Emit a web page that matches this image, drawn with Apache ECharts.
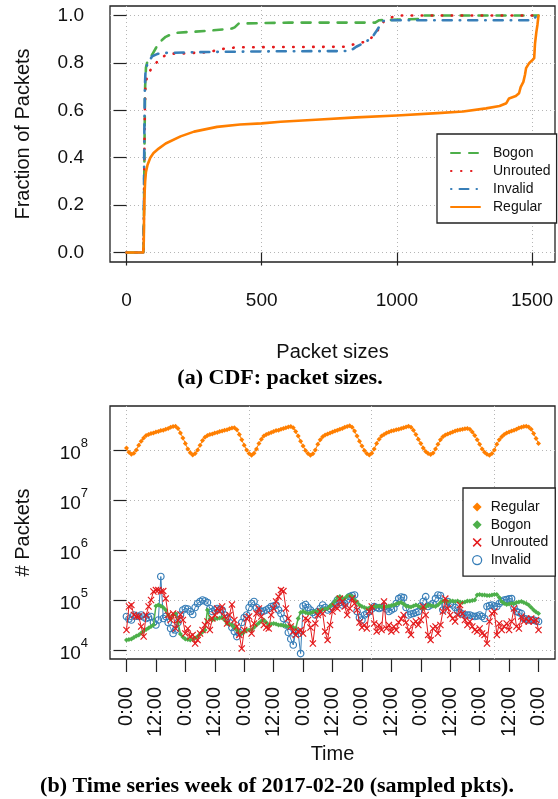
<!DOCTYPE html>
<html>
<head>
<meta charset="utf-8">
<script src="https://cdn.jsdelivr.net/npm/echarts@6/dist/echarts.min.js"></script>
<style>
  html, body { margin: 0; padding: 0; background: #fff; }
  #cdf { position: absolute; left: 0; top: 0; width: 558px; height: 399px; }
  #ts  { position: absolute; left: 0; top: 399px; width: 558px; height: 400px; }
</style>
</head>
<body>
<div id="cdf"></div>
<div id="ts"></div>
<script>
// ---- (a) CDF of packet sizes: [packet size (bytes), cumulative fraction] ----
const cdfBogon = [
  [0, 0], [63, 0], [65, 0.2], [67, 0.5], [69, 0.7], [72, 0.78], [78, 0.81], [95, 0.835],
  [110, 0.865], [125, 0.89], [145, 0.91], [175, 0.926], [225, 0.93], [300, 0.935],
  [390, 0.945], [400, 0.95], [415, 0.966], [600, 0.97], [920, 0.97], [935, 0.98],
  [1080, 0.985], [1085, 1.0], [1524, 1.0]
];
const cdfUnrouted = [
  [0, 0], [62, 0], [64, 0.1], [66, 0.4], [68, 0.6], [70, 0.7], [76, 0.743], [85, 0.765],
  [95, 0.778], [110, 0.8], [125, 0.82], [145, 0.832], [170, 0.839], [210, 0.84],
  [300, 0.845], [370, 0.862], [415, 0.866], [810, 0.868], [830, 0.875], [850, 0.881],
  [887, 0.89], [905, 0.905], [918, 0.92], [936, 0.948], [955, 0.98], [985, 0.994],
  [1020, 1.0], [1524, 1.0]
];
const cdfInvalid = [
  [0, 0], [62, 0], [64, 0.15], [66, 0.5], [68, 0.7], [71, 0.78], [76, 0.79], [85, 0.81],
  [95, 0.828], [115, 0.838], [137, 0.842], [300, 0.846], [568, 0.849], [825, 0.85],
  [840, 0.86], [850, 0.868], [870, 0.88], [887, 0.89], [910, 0.91], [924, 0.933],
  [936, 0.955], [949, 0.976], [960, 0.98], [1500, 0.98], [1510, 0.99], [1520, 1.0]
];
const cdfRegular = [
  [0, 0], [62, 0], [64, 0.05], [65, 0.15], [67, 0.25], [69, 0.3], [72, 0.34], [78, 0.37],
  [88, 0.4], [100, 0.42], [115, 0.435], [145, 0.46], [200, 0.49], [250, 0.51], [335, 0.53],
  [420, 0.54], [500, 0.545], [570, 0.552], [700, 0.56], [850, 0.57], [1000, 0.578],
  [1150, 0.588], [1245, 0.595], [1330, 0.608], [1380, 0.618], [1405, 0.63], [1415, 0.65],
  [1440, 0.66], [1452, 0.672], [1458, 0.698], [1468, 0.72], [1474, 0.75], [1478, 0.778],
  [1490, 0.8], [1500, 0.81], [1508, 0.82], [1511, 0.88], [1516, 0.93], [1520, 0.96], [1524, 1.0]
];
const sizeTicks = [0, 500, 1000, 1500];
const fractionTicks = [0, 0.2, 0.4, 0.6, 0.8, 1.0];

// ---- (b) hourly packet counts, week of 2017-02-20 (hour 0 .. 168) ----
const regular = [
  1.10e8, 9.0e7, 8.2e7, 8.6e7, 1.0e8, 1.25e8, 1.5e8, 1.75e8, 1.95e8, 2.05e8, 2.15e8, 2.2e8,
  2.3e8, 2.35e8, 2.45e8, 2.5e8, 2.6e8, 2.7e8, 2.85e8, 2.95e8, 3.0e8, 2.7e8, 2.2e8, 1.75e8,
  1.35e8, 1.05e8, 8.8e7, 8.0e7, 8.5e7, 1.0e8, 1.25e8, 1.55e8, 1.8e8, 1.95e8, 2.05e8, 2.1e8,
  2.2e8, 2.25e8, 2.35e8, 2.4e8, 2.5e8, 2.55e8, 2.65e8, 2.75e8, 2.8e8, 2.55e8, 2.05e8, 1.6e8,
  1.25e8, 1.0e8, 8.5e7, 7.9e7, 8.6e7, 1.05e8, 1.35e8, 1.65e8, 1.9e8, 2.05e8, 2.15e8, 2.25e8,
  2.35e8, 2.45e8, 2.5e8, 2.6e8, 2.7e8, 2.8e8, 2.9e8, 2.95e8, 2.8e8, 2.35e8, 1.9e8, 1.5e8,
  1.2e8, 9.8e7, 8.5e7, 7.9e7, 8.4e7, 1.0e8, 1.3e8, 1.6e8, 1.85e8, 2.0e8, 2.1e8, 2.2e8,
  2.3e8, 2.4e8, 2.5e8, 2.6e8, 2.7e8, 2.85e8, 2.95e8, 3.05e8, 2.85e8, 2.4e8, 1.9e8, 1.5e8,
  1.2e8, 9.8e7, 8.5e7, 8.0e7, 8.6e7, 1.05e8, 1.35e8, 1.65e8, 1.9e8, 2.05e8, 2.2e8, 2.3e8,
  2.4e8, 2.45e8, 2.55e8, 2.6e8, 2.7e8, 2.8e8, 2.9e8, 3.0e8, 2.85e8, 2.5e8, 2.05e8, 1.65e8,
  1.35e8, 1.1e8, 9.4e7, 8.5e7, 8.1e7, 8.7e7, 1.05e8, 1.3e8, 1.6e8, 1.85e8, 2.0e8, 2.1e8,
  2.2e8, 2.3e8, 2.4e8, 2.5e8, 2.55e8, 2.6e8, 2.65e8, 2.7e8, 2.6e8, 2.3e8, 1.95e8, 1.6e8,
  1.3e8, 1.05e8, 9.0e7, 8.2e7, 7.9e7, 8.5e7, 1.0e8, 1.3e8, 1.6e8, 1.85e8, 2.05e8, 2.2e8,
  2.3e8, 2.4e8, 2.5e8, 2.6e8, 2.75e8, 2.85e8, 2.95e8, 3.0e8, 2.9e8, 2.6e8, 2.15e8, 1.7e8, 1.35e8
];
const bogon = [
  15800, 16200, 16600, 17800, 19100, 20000, 21900, 24000, 25700, 27500, 29500, 31600,
  75900, 79400, 75900, 70800, 63100, 50100, 41700, 50100, 53700, 35500, 20900, 18200,
  16600, 16200, 15800, 16200, 17400, 18600, 20900, 22900, 25100, 63100, 41700, 39800,
  41700, 42700, 43700, 44700, 39800, 33900, 33100, 31600, 28200, 25100, 22900, 21400,
  22900, 25100, 25100, 25100, 28200, 31600, 34700, 38000, 39800, 35500, 31600, 33100,
  33900, 33100, 31600, 31600, 30900, 30200, 29500, 29500, 28200, 26900, 42700, 56200,
  58900, 56200, 53700, 55000, 57500, 58900, 60300, 63100, 64600, 66100, 67600, 75900,
  83200, 95500, 112000, 117000, 110000, 107000, 120000, 123000, 117000, 100000, 91200, 79400,
  74100, 70800, 67600, 69200, 72400, 74100, 74100, 75900, 74100, 72400, 74100, 75900,
  77600, 79400, 83200, 87100, 89100, 83200, 75900, 74100, 72400, 75900, 79400, 75900,
  70800, 67600, 72400, 79400, 77600, 75900, 74100, 79400, 89100, 95500, 95500, 93300,
  95500, 95500, 93300, 95500, 91200, 89100, 91200, 95500, 95500, 97700, 100000, 126000,
  129000, 126000, 126000, 123000, 123000, 126000, 129000, 129000, 112000, 93300, 85100, 81300,
  83200, 85100, 85100, 89100, 91200, 93300, 89100, 85100, 79400, 70800, 63100, 57500, 53700
];
const unrouted = [
  25100, 74100, 79400, 50100, 46800, 46800, 29500, 18600, 50100, 74100, 100000, 148000,
  158000, 158000, 148000, 151000, 107000, 50100, 39800, 53700, 26900, 39800, 51300, 39800,
  21400, 26900, 18600, 20000, 13500, 15800, 21400, 25100, 31600, 37200, 25100, 42700,
  50100, 67600, 58900, 74100, 46800, 33900, 50100, 81300, 39800, 29500, 20000, 10700,
  25100, 42700, 46800, 21400, 33900, 53700, 67600, 46800, 31600, 28200, 26900, 50100,
  67600, 93300, 117000, 158000, 151000, 67600, 42700, 29500, 23400, 20000, 23400, 25100,
  21400, 42700, 39800, 28200, 13500, 33900, 50100, 58900, 53700, 23400, 15800, 31600,
  58900, 74100, 67600, 107000, 93300, 74100, 50100, 67600, 107000, 85100, 63100, 35500,
  28200, 31600, 26900, 58900, 74100, 33900, 23400, 31600, 25100, 93300, 26900, 31600,
  23400, 29500, 25100, 35500, 41700, 50100, 35500, 25100, 20000, 33900, 37200, 31600,
  39800, 74100, 50100, 20000, 15800, 26900, 29500, 21400, 31600, 58900, 107000, 67600,
  50100, 42700, 37200, 50100, 79400, 53700, 39800, 31600, 37200, 29500, 25100, 23400,
  26900, 21400, 20000, 13500, 37200, 53700, 58900, 20000, 33900, 25100, 29500, 33900,
  25100, 37200, 67600, 29500, 26900, 46800, 37200, 42700, 37200, 42700, 37200, 39800, 25100
];
const invalid = [
  46800, 41700, 39800, 50100, 47900, 46800, 50100, 45700, 42700, 44700, 46800, 35500,
  31600, 39800, 295000, 42700, 46800, 35500, 26900, 21400, 25100, 35500, 50100, 63100,
  67600, 66100, 58900, 51300, 70800, 85100, 93300, 100000, 95500, 89100, 67600, 58900,
  63100, 67600, 64600, 63100, 50100, 42700, 35500, 28200, 23400, 18600, 22400, 35500,
  44700, 50100, 70800, 85100, 93300, 70800, 63100, 58900, 60300, 63100, 67600, 74100,
  75900, 79400, 63100, 53700, 42700, 31600, 22400, 16600, 12600, 23400, 21400, 8500,
  75900, 81300, 70800, 63100, 56200, 50100, 58900, 67600, 79400, 70800, 63100, 67600,
  74100, 85100, 100000, 89100, 79400, 85100, 100000, 117000, 123000, 126000, 58900, 44700,
  39800, 50100, 53700, 58900, 66100, 74100, 70800, 67600, 70800, 74100, 66100, 58900,
  63100, 67600, 85100, 107000, 115000, 112000, 70800, 50100, 52500, 53700, 56200, 58900,
  75900, 93300, 117000, 74100, 79400, 85100, 107000, 126000, 123000, 63100, 79400, 93300,
  85100, 79400, 70800, 60300, 56200, 52500, 50100, 50100, 50100, 47900, 46800, 47900,
  50100, 46800, 42700, 74100, 77600, 79400, 75900, 74100, 85100, 93300, 100000, 102000,
  105000, 107000, 70800, 58900, 56200, 53700, 42700, 41700, 39800, 39800, 39800, 38000, 37200
];
const timeTickHours = [0, 12, 24, 36, 48, 60, 72, 84, 96, 108, 120, 132, 144, 156, 168];
const timeTickLabels = ['0:00', '12:00', '0:00', '12:00', '0:00', '12:00', '0:00', '12:00',
                        '0:00', '12:00', '0:00', '12:00', '0:00', '12:00', '0:00'];
const timeGridHours = [0, 50, 100, 150];
const countTicks = [1e4, 1e5, 1e6, 1e7, 1e8];

// ---- shared styling ----
const SANS = '"Liberation Sans", Arial, Helvetica, sans-serif';
const SERIF = '"Liberation Serif", "DejaVu Serif", serif';
const INK = '#111';
const FRAME = '#222';
const gridLine = { show: true, lineStyle: { color: '#b5b5b5', width: 1, type: [1, 3] } };
const tickStyle = { color: FRAME, width: 1.2 };
const labelText = { fontSize: 19, fontFamily: SANS, color: INK };
const nameText = { fontSize: 20, fontFamily: SANS, color: INK };
const legendText = { fontSize: 14, fontFamily: SANS, color: INK };
const C = { bogon: '#4DAF4A', unrouted: '#E41A1C', invalid: '#377EB8', regular: '#FF7F00' };
const CROSS = 'path://M0,0.12L0.12,0L0.5,0.38L0.88,0L1,0.12L0.62,0.5L1,0.88L0.88,1L0.5,0.62L0.12,1L0,0.88L0.38,0.5Z';

// ---- chart (a) ----
function cdfLine(name, data, color, dash) {
  return {
    type: 'line', name, data, symbol: 'none', silent: true,
    emphasis: { disabled: true },
    itemStyle: { color: 'rgba(0,0,0,0)' },
    lineStyle: { color, width: 2.6, type: dash, cap: 'round', join: 'round' }
  };
}

const cdfChart = echarts.init(document.getElementById('cdf'), null, { renderer: 'canvas' });
cdfChart.setOption({
  animation: false,
  grid: { left: 110, top: 6, width: 445, height: 256, show: true,
          borderColor: FRAME, borderWidth: 1.3, backgroundColor: 'rgba(0,0,0,0)' },
  xAxis: {
    type: 'value', min: -61, max: 1585,
    axisLine: { show: false },
    axisTick: { show: true, length: 13, lineStyle: tickStyle, customValues: sizeTicks },
    axisLabel: { customValues: sizeTicks, margin: 29, formatter: v => String(v), ...labelText },
    splitLine: gridLine,
    name: 'Packet sizes', nameLocation: 'middle', nameGap: 80, nameTextStyle: nameText
  },
  yAxis: {
    type: 'value', min: -0.04, max: 1.04,
    axisLine: { show: false },
    axisTick: { show: true, length: 13, lineStyle: tickStyle, customValues: fractionTicks },
    axisLabel: { customValues: fractionTicks, margin: 26, formatter: v => v.toFixed(1), ...labelText },
    splitLine: gridLine,
    name: 'Fraction of Packets', nameLocation: 'middle', nameGap: 77, nameTextStyle: nameText
  },
  legend: {
    orient: 'vertical', left: 437, top: 134,
    data: ['Bogon', 'Unrouted', 'Invalid', 'Regular'],
    itemWidth: 29, itemHeight: 14, itemGap: 4,
    padding: [12, 6, 9, 13],
    borderColor: FRAME, borderWidth: 1.3, backgroundColor: '#fff',
    selectedMode: false,
    textStyle: { ...legendText, padding: [0, 0, 0, 8] }
  },
  series: [
    cdfLine('Bogon', cdfBogon, C.bogon, [9, 9]),
    cdfLine('Unrouted', cdfUnrouted, C.unrouted, [0.5, 9.5]),
    cdfLine('Invalid', cdfInvalid, C.invalid, [0.5, 8, 9, 8]),
    cdfLine('Regular', cdfRegular, C.regular, 'solid')
  ],
  graphic: [{
    type: 'text', x: 280, y: 378, silent: true,
    style: { text: '(a) CDF: packet sizes.', align: 'center', verticalAlign: 'middle',
             fontSize: 22, fontWeight: 'bold', fontFamily: SERIF, fill: '#000' }
  }]
});

// ---- chart (b) ----
function countSeries(name, values, color, symbol, size, lineWidth, itemStyle, z) {
  return {
    type: 'line', name, z, silent: true,
    data: values.map((v, h) => [h, v]),
    symbol, symbolSize: size, showSymbol: true, showAllSymbol: true,
    emphasis: { disabled: true },
    itemStyle: Object.assign({ color, borderWidth: 0 }, itemStyle),
    lineStyle: { color, width: lineWidth }
  };
}

const tsChart = echarts.init(document.getElementById('ts'), null, { renderer: 'canvas' });
tsChart.setOption({
  animation: false,
  grid: { left: 110, top: 7, width: 445, height: 253, show: true,
          borderColor: FRAME, borderWidth: 1.3, backgroundColor: 'rgba(0,0,0,0)' },
  xAxis: [{
    type: 'value', min: -6.72, max: 174.72,
    axisLine: { show: false },
    axisTick: { show: true, length: 13, lineStyle: tickStyle, customValues: timeTickHours },
    axisLabel: { customValues: timeTickHours, rotate: 90, margin: 28,
                 formatter: v => timeTickLabels[timeTickHours.indexOf(v)],
                 ...labelText, fontSize: 20 },
    splitLine: { show: false },
    name: 'Time', nameLocation: 'middle', nameGap: 75, nameTextStyle: nameText
  }, {
    type: 'value', min: -6.72, max: 174.72, position: 'bottom',
    axisLine: { show: false },
    axisTick: { show: false, customValues: timeGridHours },
    axisLabel: { show: false },
    splitLine: gridLine
  }],
  yAxis: {
    type: 'log', logBase: 10, min: 6607, max: 7.6e8,
    axisLine: { show: false },
    axisTick: { show: true, length: 13, lineStyle: tickStyle, customValues: countTicks },
    axisLabel: {
      customValues: countTicks, margin: 22,
      formatter: v => '{b|10}{s|' + Math.round(Math.log10(v)) + '}',
      rich: {
        b: { fontSize: 19, fontFamily: SANS, color: INK, lineHeight: 26, verticalAlign: 'bottom' },
        s: { fontSize: 13, fontFamily: SANS, color: INK, lineHeight: 12, verticalAlign: 'top' }
      }
    },
    splitLine: gridLine,
    name: '# Packets', nameLocation: 'middle', nameGap: 77, nameTextStyle: nameText
  },
  legend: {
    orient: 'vertical', left: 463, top: 89,
    data: [
      { name: 'Regular', icon: 'diamond' },
      { name: 'Bogon', icon: 'diamond' },
      { name: 'Unrouted', icon: CROSS },
      { name: 'Invalid', icon: 'circle', itemStyle: { borderWidth: 1.3 } }
    ],
    itemWidth: 9, itemHeight: 9, itemGap: 3.7,
    padding: [12, 7, 9, 9],
    borderColor: FRAME, borderWidth: 1.3, backgroundColor: '#fff',
    selectedMode: false,
    textStyle: { ...legendText, padding: [0, 0, 0, 4] }
  },
  series: [
    countSeries('Regular', regular, C.regular, 'diamond', 5, 1, {}, 2),
    countSeries('Invalid', invalid, C.invalid, 'circle', 6.5, 1,
                { color: 'rgba(255,255,255,0)', borderColor: C.invalid, borderWidth: 1.2 }, 3),
    countSeries('Bogon', bogon, C.bogon, 'diamond', 5, 1.5, {}, 4),
    countSeries('Unrouted', unrouted, C.unrouted, CROSS, 7, 1, {}, 5)
  ],
  graphic: [{
    type: 'text', x: 277, y: 387, silent: true,
    style: { text: '(b) Time series week of 2017-02-20 (sampled pkts).', align: 'center',
             verticalAlign: 'middle', fontSize: 22, fontWeight: 'bold', fontFamily: SERIF, fill: '#000' }
  }]
});
</script>
</body>
</html>
